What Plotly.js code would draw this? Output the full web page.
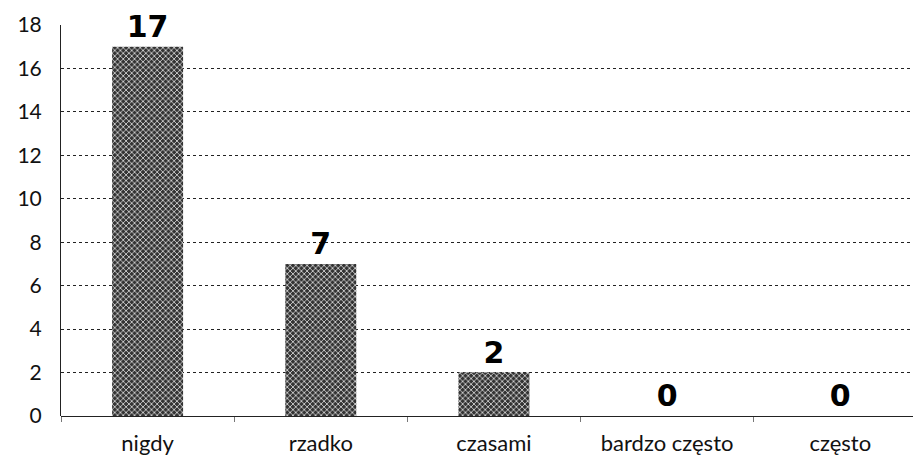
<!DOCTYPE html>
<html><head><meta charset="utf-8">
<script src="https://cdn.plot.ly/plotly-3.0.1.min.js"></script>
<style>html,body{margin:0;padding:0;background:#fff;}</style>
</head><body>
<div id="chart" style="width:913px;height:464px;"></div>
<script>
const categories = ["nigdy", "rzadko", "czasami", "bardzo często", "często"];
const values = [17, 7, 2, 0, 0];
const valueLabels = ["17", "7", "2", "0", "0"];
const yTicks = [0, 2, 4, 6, 8, 10, 12, 14, 16, 18];

const trace = {
  type: "bar",
  x: categories,
  y: values,
  width: 0.41,
  text: valueLabels,
  textposition: "outside",
  cliponaxis: false,
  textfont: {family: "DejaVu Sans", size: 30, color: "#000", weight: "bold"},
  marker: {
    color: "#5a5a5a",
    line: {width: 0},
    pattern: {shape: "x", fgcolor: "#d0d0d0", bgcolor: "#333333", size: 4, solidity: 0.4}
  },
  hoverinfo: "none"
};

const layout = {
  width: 913, height: 464,
  margin: {l: 61, r: 0, t: 25, b: 48},
  paper_bgcolor: "#fff", plot_bgcolor: "#fff",
  showlegend: false,
  bargap: 0.5,
  font: {family: "Lato, 'Open Sans', sans-serif", color: "#111"},
  xaxis: {
    type: "category",
    range: [-0.5, 4.42],
    tickfont: {size: 22, family: "Lato, sans-serif", color: "#111"},
    ticks: "outside", tickson: "boundaries", ticklen: 5, tickcolor: "#777",
    ticklabelstandoff: 12,
    showline: false, showgrid: false, zeroline: false
  },
  yaxis: {
    range: [0, 18],
    tickvals: yTicks,
    ticktext: yTicks.map(String),
    tickfont: {size: 21, family: "Lato, sans-serif", color: "#111"},
    ticklabelstandoff: 14,
    showgrid: true, gridcolor: "#222", griddash: "dot", gridwidth: 1,
    zeroline: true, zerolinecolor: "#222", zerolinewidth: 1,
    showline: true, linecolor: "#222", linewidth: 1,
    ticks: ""
  }
};

Plotly.newPlot("chart", [trace], layout, {displayModeBar: false, staticPlot: true});
</script>
</body></html>
